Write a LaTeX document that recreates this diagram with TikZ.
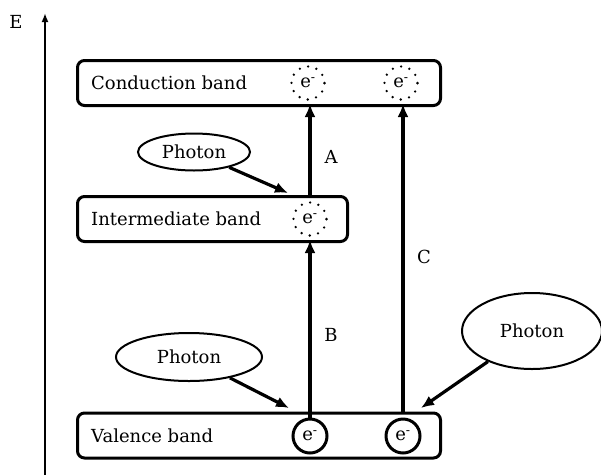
\documentclass[tikz,border=0pt]{standalone}
\usepackage{fontspec}
\setmainfont{DejaVu Serif}
\usetikzlibrary{shapes.geometric,arrows.meta}
\begin{document}
\begin{tikzpicture}[x=1pt,y=-1pt,
  every node/.style={font=\fontsize{18}{21}\selectfont},
  band/.style={draw, line width=3pt, rounded corners=7pt, minimum height=45pt, inner sep=0pt},
  lbl/.style={anchor=west, inner sep=0pt},
  eon/.style={circle, draw, line width=3pt, minimum size=34pt, inner sep=0pt},
  eoff/.style={circle, draw, line width=2.6pt, dash pattern=on 0pt off 8.6pt, line cap=round, minimum size=33pt, inner sep=0pt},
  photon/.style={ellipse, draw, line width=2pt, inner sep=0pt},
  arr/.style={line width=3.2pt, -{Latex[length=13pt,width=11pt]}},
  axarr/.style={line width=2pt, -{Latex[length=9pt,width=7pt]}}]
\useasboundingbox (0,0) rectangle (601,474);
% axis
\coordinate (ax0) at (45,476);
\coordinate (ax1) at (45,13);
\draw[axarr] (ax0) -- (ax1);
\node (E) at (16,22) {E};
% bands
\node[band, minimum width=363pt] (cb) at (259,83) {};
\node[band, minimum width=270pt] (ib) at (212.5,219) {};
\node[band, minimum width=363pt] (vb) at (259,435.5) {};
\node[lbl] (cbt) at (91,83) {Conduction band};
\node[lbl] (ibt) at (91,219) {Intermediate band};
\node[lbl] (vbt) at (91,436) {Valence band};
% electrons
\node[eoff] (ce1) at (308,83) {};
\node (ce1t) at (308,83) {e\textsuperscript{-}};
\node[eoff] (ce2) at (401,83) {};
\node (ce2t) at (401,83) {e\textsuperscript{-}};
\node[eoff] (ic) at (310,219) {};
\node (ict) at (310,219) {e\textsuperscript{-}};
\node[eon] (vc1) at (310,436) {e\textsuperscript{-}};
\node[eon] (vc2) at (403,436) {e\textsuperscript{-}};
% transitions
\draw[arr] (vc1.north) -- ([yshift=3pt]vc1.north |- ib.south);
\draw[arr] (ic |- ib.north) -- ([yshift=3pt]ic |- cb.south);
\draw[arr] (vc2 |- vb.north) -- ([yshift=3pt]vc2 |- cb.south);
\node (A) at (331,157) {A};
\node (B) at (331,335) {B};
\node (C) at (424,257) {C};
% photons
\node[photon, minimum width=112pt, minimum height=37pt] (p1) at (194,152) {Photon};
\node[photon, minimum width=146pt, minimum height=48pt] (p2) at (189,357) {Photon};
\node[photon, minimum width=140pt, minimum height=76pt] (p3) at (532,331) {Photon};
\coordinate (t1) at (288,193);
\coordinate (t2) at (289,408);
\coordinate (t3) at (421,408);
\draw[arr] (p1) -- (t1);
\draw[arr] (p2) -- (t2);
\draw[arr] (p3) -- (t3);
\end{tikzpicture}
\end{document}
